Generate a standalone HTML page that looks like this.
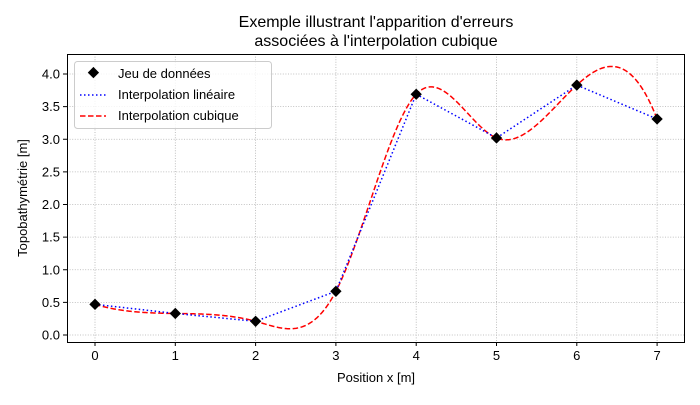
<!DOCTYPE html>
<html><head><meta charset="utf-8"><style>
body{margin:0;background:#fff;}
svg{font-family:"Liberation Sans","DejaVu Sans",sans-serif;}
</style></head><body>
<svg id="chart" width="700" height="400" xmlns="http://www.w3.org/2000/svg">
<text x="376" y="27" font-size="16" text-anchor="middle">Exemple illustrant l'apparition d'erreurs</text>
<text x="376" y="46" font-size="16" text-anchor="middle">associées à l'interpolation cubique</text>
<g id="grid"></g><g id="series"></g><g id="axes"></g>
<rect x="67.5" y="54.5" width="617" height="288" fill="none" stroke="#000" stroke-width="1"/>
<text x="376" y="382" font-size="13" text-anchor="middle">Position x [m]</text>
<text transform="translate(27,198) rotate(-90)" font-size="13" text-anchor="middle">Topobathymétrie [m]</text>
<g>
<rect x="74.5" y="61.5" width="197" height="67" rx="3" fill="#fff" fill-opacity="0.8" stroke="#ccc"/>
<rect x="88" y="68" width="8" height="8" transform="rotate(45 92 74)" fill="#000"/>
<text x="118" y="78" font-size="13">Jeu de données</text>
<line x1="80" y1="95" x2="106" y2="95" stroke="#00f" stroke-width="1.5" stroke-dasharray="1.5,2.5"/>
<text x="118" y="99" font-size="13">Interpolation linéaire</text>
<line x1="80" y1="116" x2="106" y2="116" stroke="#f00" stroke-width="1.5" stroke-dasharray="5.5,2.5"/>
<text x="118" y="120" font-size="13">Interpolation cubique</text>
</g>
</svg>
<script>
const xs=[0,1,2,3,4,5,6,7];
const ys=[0.47,0.33,0.21,0.67,3.69,3.02,3.83,3.31];
const xTicks=[0,1,2,3,4,5,6,7];
const yTicks=[0,0.5,1,1.5,2,2.5,3,3.5,4];
const NS="http://www.w3.org/2000/svg";
const X=v=>95+v*80.3, Y=v=>335-v*65.25;
function mk(tag,attrs,parent){const e=document.createElementNS(NS,tag);for(const k in attrs)e.setAttribute(k,attrs[k]);parent.appendChild(e);return e;}
const grid=document.getElementById('grid'),axes=document.getElementById('axes'),ser=document.getElementById('series');
xTicks.forEach(t=>{
 const g=mk('line',{x1:X(t),x2:X(t),y1:54,y2:342,stroke:'#b0b0b0','stroke-width':0.8,'stroke-dasharray':'1,1.6'},grid);
 
 
 const tk=mk('line',{x1:X(t),x2:X(t),y1:342,y2:346,stroke:'#000'},axes);
 
 
 const l=mk('text',{x:X(t),y:360,'font-size':13,'text-anchor':'middle'},axes);l.textContent=t;
 
 
});
yTicks.forEach(t=>{
 const g=mk('line',{x1:67,x2:685,y1:Y(t),y2:Y(t),stroke:'#b0b0b0','stroke-width':0.8,'stroke-dasharray':'1,1.6'},grid);
 
 
 const tk=mk('line',{x1:63,x2:67,y1:Y(t),y2:Y(t),stroke:'#000'},axes);
 
 
 const l=mk('text',{x:60,y:Y(t)+4.5,'font-size':13,'text-anchor':'end'},axes);l.textContent=t.toFixed(1);
 
 
});
// not-a-knot cubic spline (uniform spacing assumed from xs)
const n=xs.length,A=[],b=[];
for(let i=0;i<n;i++){A.push(new Array(n).fill(0));b.push(0);}
A[0][0]=1;A[0][1]=-2;A[0][2]=1;
for(let i=1;i<n-1;i++){A[i][i-1]=1;A[i][i]=4;A[i][i+1]=1;b[i]=6*(ys[i+1]-2*ys[i]+ys[i-1]);}
A[n-1][n-3]=1;A[n-1][n-2]=-2;A[n-1][n-1]=1;
for(let c=0;c<n;c++){let p=c;for(let r=c+1;r<n;r++)if(Math.abs(A[r][c])>Math.abs(A[p][c]))p=r;
 [A[c],A[p]]=[A[p],A[c]];[b[c],b[p]]=[b[p],b[c]];
 for(let r=0;r<n;r++){if(r===c)continue;const f=A[r][c]/A[c][c];for(let k=c;k<n;k++)A[r][k]-=f*A[c][k];b[r]-=f*b[c];}}
const M=b.map((v,i)=>v/A[i][i]);
function S(x){let i=Math.min(Math.floor(x),n-2);const t=x-i;
 return M[i]*Math.pow(1-t,3)/6+M[i+1]*t*t*t/6+(ys[i]-M[i]/6)*(1-t)+(ys[i+1]-M[i+1]/6)*t;}
let d='';for(let k=0;k<=700;k++){const x=xs[0]+(xs[n-1]-xs[0])*k/700;d+=(k?'L':'M')+X(x).toFixed(2)+','+Y(S(x)).toFixed(2);}
const cub=mk('path',{d,fill:'none',stroke:'#f00','stroke-width':1.5,'stroke-dasharray':'5.5,2.5'},ser);


const lin=mk('polyline',{points:xs.map((x,i)=>X(x)+','+Y(ys[i])).join(' '),fill:'none',stroke:'#00f','stroke-width':1.5,'stroke-dasharray':'1.5,2.5'},ser);


xs.forEach((x,i)=>{
 const m=mk('rect',{x:X(x)-4,y:Y(ys[i])-4,width:8,height:8,transform:`rotate(45 ${X(x)} ${Y(ys[i])})`,fill:'#000'},ser);
 
 
});
</script>
</body></html>
